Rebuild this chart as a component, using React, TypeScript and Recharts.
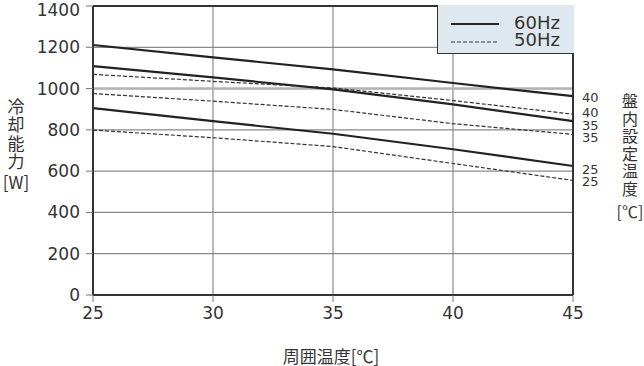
import React from 'react';
import {
    LineChart,
    Line,
    XAxis,
    YAxis,
    CartesianGrid,
    ReferenceLine,
    Legend,
    LabelList,
    Label,
} from 'recharts';

// 周囲温度 [℃]
const ambientTemps = [25, 30, 35, 40, 45];

// 冷却能力 [W]  (60Hz solid / 50Hz dashed), 盤内設定温度 40 / 35 / 25
const hz60_set40 = [1211, 1151, 1093, 1027, 963];
const hz60_set35 = [1109, 1054, 996, 923, 842];
const hz60_set25 = [905, 842, 781, 706, 625];
const hz50_set40 = [1069, 1035, 1003, 942, 876];
const hz50_set35 = [976, 939, 899, 830, 778];
const hz50_set25 = [799, 762, 719, 637, 555];

const xTicks = [25, 30, 35, 40, 45];
const yTicks = [0, 200, 400, 600, 800, 1000, 1200, 1400];

const legendItems = [
    { label: '60Hz', dashed: false },
    { label: '50Hz', dashed: true },
];

const FONT = "'DejaVu Sans', 'Noto Sans CJK JP', sans-serif";
const CJK = "'Noto Sans CJK JP', 'Noto Sans', sans-serif";
const TEXT = '#333';
const SOLID = { stroke: '#222', strokeWidth: 2.2 };
const DASHED = { stroke: '#333', strokeWidth: 1.2, strokeDasharray: '4 2' };

// end label text + small vertical nudge so the labels don't collide
const series = [
    { key: 'h60_40', values: hz60_set40, dashed: false, setTemp: '40', dy: 1 },
    { key: 'h50_40', values: hz50_set40, dashed: true, setTemp: '40', dy: -1.5 },
    { key: 'h60_35', values: hz60_set35, dashed: false, setTemp: '35', dy: 4 },
    { key: 'h50_35', values: hz50_set35, dashed: true, setTemp: '35', dy: 3 },
    { key: 'h60_25', values: hz60_set25, dashed: false, setTemp: '25', dy: 4 },
    { key: 'h50_25', values: hz50_set25, dashed: true, setTemp: '25', dy: 1.5 },
];

const data = ambientTemps.map((t, i) => {
    const row: Record<string, number> = { t };
    series.forEach((s) => {
        row[s.key] = s.values[i];
    });
    return row;
});

const leftTitle = ['冷', '却', '能', '力'];
const rightTitle = ['盤', '内', '設', '定', '温', '度'];

const LegendBox = () => (
    <div
        style={{
            boxSizing: 'border-box',
            width: 137,
            height: 49,
            background: '#dfe8ee',
            borderLeft: '1.5px solid #333',
            borderBottom: '1.5px solid #333',
        }}
    >
        <svg width={136} height={48} style={{ display: 'block' }}>
            {legendItems.map((item, i) => (
                <g key={item.label}>
                    <line
                        x1={13}
                        x2={61}
                        y1={19 + i * 18}
                        y2={19 + i * 18}
                        {...(item.dashed ? DASHED : SOLID)}
                    />
                    <text
                        x={76}
                        y={17 + i * 17}
                        dominantBaseline="central"
                        fontSize={18}
                        fontFamily={FONT}
                        fill={TEXT}
                    >
                        {item.label}
                    </text>
                </g>
            ))}
        </svg>
    </div>
);

export default function App() {
    return (
        <div style={{ position: 'absolute', left: 0, top: 0 }}>
            <LineChart
                width={644}
                height={366}
                data={data}
                margin={{ top: 6, right: 71, bottom: 0, left: 0 }}
                style={{ fontFamily: FONT }}
            >
                <CartesianGrid stroke="#8a8a8a" strokeWidth={1.2} />
                <XAxis
                    dataKey="t"
                    type="number"
                    domain={[25, 45]}
                    ticks={xTicks}
                    height={71}
                    tickSize={7}
                    tickMargin={5}
                    stroke="#333"
                    axisLine={{ stroke: '#333', strokeWidth: 2 }}
                    tickLine={{ stroke: '#777' }}
                    tick={{ fill: TEXT, fontSize: 17, fontFamily: FONT }}
                >
                    <Label
                        content={() => (
                            <text
                                x={331}
                                y={355}
                                textAnchor="middle"
                                dominantBaseline="central"
                                fontSize={17}
                                fontFamily={CJK}
                                fill={TEXT}
                            >
                                周囲温度[℃]
                            </text>
                        )}
                    />
                </XAxis>
                <YAxis
                    type="number"
                    domain={[0, 1400]}
                    ticks={yTicks}
                    width={93}
                    tickSize={7}
                    tickMargin={6}
                    axisLine={{ stroke: '#333', strokeWidth: 2 }}
                    tickLine={{ stroke: '#777' }}
                    tick={{ fill: TEXT, fontSize: 17, fontFamily: FONT }}
                >
                    <Label
                        content={() => (
                            <g fontFamily={CJK} fill={TEXT}>
                                {leftTitle.map((c, i) => (
                                    <text
                                        key={c}
                                        x={16}
                                        y={105 + i * 18.5}
                                        textAnchor="middle"
                                        dominantBaseline="central"
                                        fontSize={17}
                                    >
                                        {c}
                                    </text>
                                ))}
                                <text
                                    x={16}
                                    y={181}
                                    textAnchor="middle"
                                    dominantBaseline="central"
                                    fontSize={17}
                                >
                                    [W]
                                </text>
                            </g>
                        )}
                    />
                </YAxis>
                <ReferenceLine y={1000} stroke="#b4b4b4" strokeWidth={2.5} />
                <ReferenceLine y={1400} stroke="#333" strokeWidth={2} />
                <ReferenceLine x={45} stroke="#333" strokeWidth={2}>
                    <Label
                        content={() => (
                            <g fontFamily={CJK} fill={TEXT}>
                                {rightTitle.map((c, i) => (
                                    <text
                                        key={c}
                                        x={630}
                                        y={100 + i * 17.6}
                                        textAnchor="middle"
                                        dominantBaseline="central"
                                        fontSize={16}
                                    >
                                        {c}
                                    </text>
                                ))}
                                <text
                                    x={630}
                                    y={211}
                                    textAnchor="middle"
                                    dominantBaseline="central"
                                    fontSize={16}
                                >
                                    [℃]
                                </text>
                            </g>
                        )}
                    />
                </ReferenceLine>
                {series.map((s) => (
                    <Line
                        key={s.key}
                        dataKey={s.key}
                        type="linear"
                        dot={false}
                        activeDot={false}
                        isAnimationActive={false}
                        {...(s.dashed ? DASHED : SOLID)}
                    >
                        <LabelList
                            dataKey={s.key}
                            content={(p: any) =>
                                p.index === ambientTemps.length - 1 ? (
                                    <text
                                        x={Number(p.x) + 9}
                                        y={Number(p.y) + s.dy}
                                        dominantBaseline="central"
                                        fontSize={13}
                                        fontFamily={FONT}
                                        fill={TEXT}
                                    >
                                        {s.setTemp}
                                    </text>
                                ) : null
                            }
                        />
                    </Line>
                ))}
                <Legend
                    layout="vertical"
                    align="center"
                    verticalAlign="middle"
                    wrapperStyle={{ left: 437, top: 5, width: 137, height: 49 }}
                    content={() => <LegendBox />}
                />
            </LineChart>
        </div>
    );
}
